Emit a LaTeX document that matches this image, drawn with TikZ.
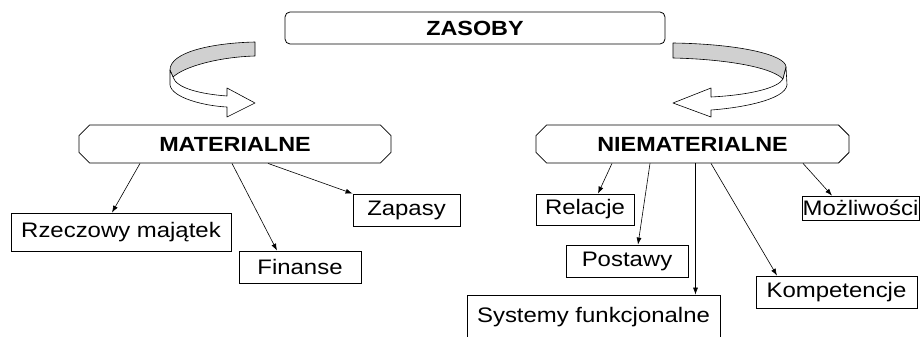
\documentclass[tikz,border=0pt]{standalone}
\usepackage{fontspec}
\setmainfont[FakeStretch=1.14]{Liberation Sans}
\usepackage{tikz}
\usetikzlibrary{shapes.misc, arrows.meta}
\definecolor{BandGray}{HTML}{d0d0d0}

\begin{document}
\begin{tikzpicture}[
  x=1pt, y=-1pt,
  head/.style={draw, line width=0.8pt, chamfered rectangle, chamfered rectangle xsep=11pt,
    minimum width=#1, minimum height=38pt, inner sep=0pt, font=\fontsize{20.5}{24}\selectfont\bfseries},
  leaf/.style={draw, line width=0.8pt, minimum height=32pt, inner sep=0pt, font=\fontsize{21}{25}\selectfont},
  arr/.style={-{Latex[length=7pt,width=5pt]}, line width=0.6pt},
  band/.style={draw, line width=0.6pt, line join=round}
]
\useasboundingbox (0,0) rectangle (924,337);

% top and the two groups
\node[draw, line width=0.8pt, rounded corners=5pt, minimum width=380pt, minimum height=32pt,
  font=\fontsize{20.5}{24}\selectfont\bfseries] (zasoby) at (475,28) {ZASOBY};
\node[head=312pt] (mat) at (235,144) {MATERIALNE};
\node[head=313pt] (niemat) at (692.5,144) {NIEMATERIALNE};

% ribbon arrow, left
\fill[BandGray] (255,42) .. controls (212,43) and (170,52) .. (170,70)
  -- (173,77) .. controls (185,66) and (220,57) .. (255,56) -- cycle;
\draw[band] (255,42) .. controls (212,43) and (170,52) .. (170,70)
  -- (173,77) .. controls (185,66) and (220,57) .. (255,56) -- cycle;
\draw[band, fill=white] (170,70) -- (170,85) .. controls (172,98) and (205,106) .. (227,107)
  -- (227,117) -- (255,103) -- (227,88) -- (227,96)
  .. controls (200,94) and (176,88) .. (173,77) -- cycle;

% ribbon arrow, right
\fill[BandGray] (673,43) .. controls (740,44) and (786,55) .. (786,67)
  -- (783,79) .. controls (770,66) and (720,59) .. (673,58) -- cycle;
\draw[band] (673,43) .. controls (740,44) and (786,55) .. (786,67)
  -- (783,79) .. controls (770,66) and (720,59) .. (673,58) -- cycle;
\draw[band, fill=white] (786,67) -- (787,85) .. controls (785,100) and (740,108) .. (711,110)
  -- (711,117) -- (673,103) -- (711,88) -- (711,97)
  .. controls (750,95) and (778,88) .. (783,79) -- cycle;

% material resources
\node[leaf, minimum width=220pt, minimum height=38pt] (rzecz) at (121,232) {Rzeczowy majątek};
\node[leaf, minimum width=122pt] (fin) at (300,267) {Finanse};
\node[leaf, minimum width=107pt] (zap) at (406.5,210) {Zapasy};

% intangible resources
\node[leaf, minimum width=98pt, minimum height=31pt] (rel) at (585,209.5) {Relacje};
\node[leaf, minimum width=122pt] (post) at (627,261) {Postawy};
\node[leaf, minimum width=253pt, minimum height=44pt] (sys) at (593.5,317) {Systemy funkcjonalne};
\node[leaf, minimum width=161pt] (komp) at (836.5,292) {Kompetencje};
\node[leaf, minimum width=117pt, minimum height=24pt] (moz) at (860.5,208) {Możliwości};

\draw[arr] ([xshift=-95pt]mat.south) -- ([xshift=-9pt]rzecz.north);
\draw[arr] ([xshift=-3pt]mat.south) -- ([xshift=-23pt]fin.north);
\draw[arr] ([xshift=33pt]mat.south) -- (zap.north west);

\draw[arr] ([xshift=-80.5pt]niemat.south) -- ([xshift=13pt]rel.north);
\draw[arr] ([xshift=-42.5pt]niemat.south) -- ([xshift=11pt]post.north);
\draw[arr] ([xshift=3pt]niemat.south) -- ([xshift=3pt]niemat.south |- sys.north);
\draw[arr] ([xshift=18.5pt]niemat.south) -- ([xshift=-59.5pt]komp.north);
\draw[arr] ([xshift=110.5pt]niemat.south) -- ([xshift=-28.5pt]moz.north);
\end{tikzpicture}
\end{document}
